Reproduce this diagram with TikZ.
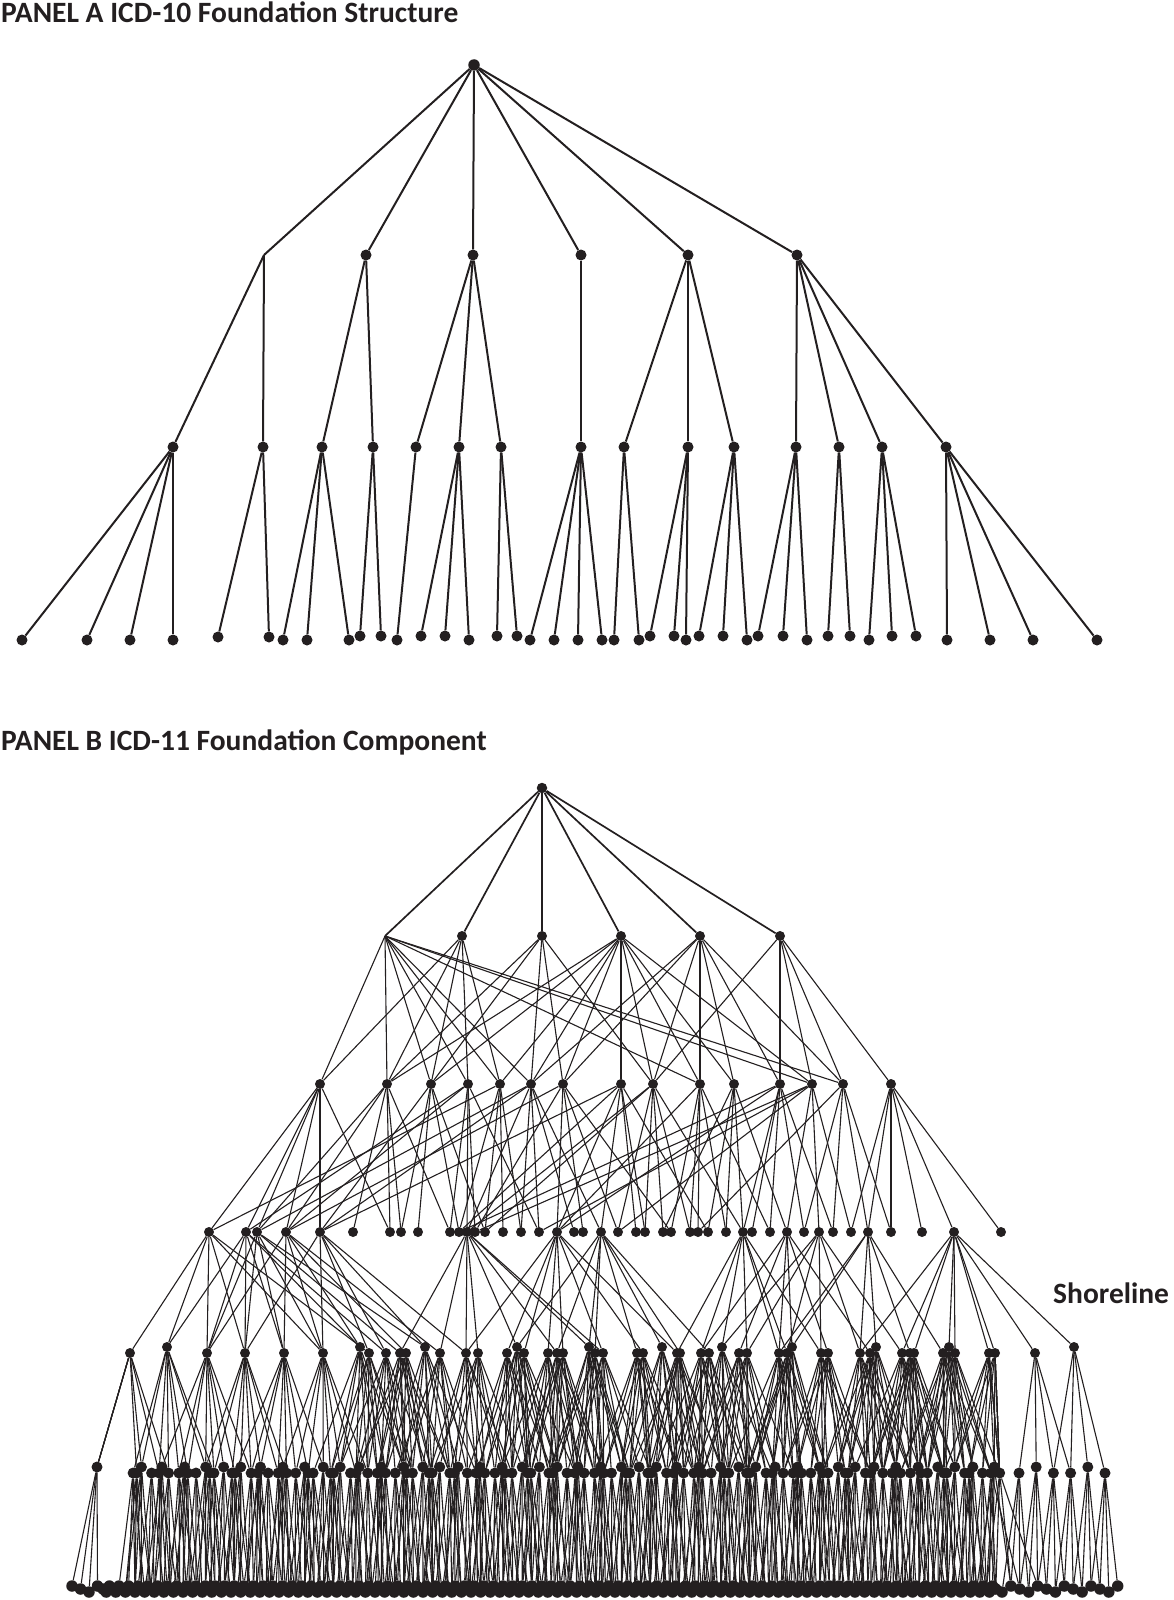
\documentclass[tikz,border=0pt]{standalone}
\usepackage{fontspec}
\setmainfont{Carlito}
\usepackage{tikz}
\definecolor{ink}{HTML}{231F20}

\begin{document}
\begin{tikzpicture}[x=1pt, y=-1pt,
    dot/.style={circle, fill=ink, inner sep=0pt, minimum size=10pt},
    leaf/.style={dot, minimum size=11pt},
    treeedge/.style={draw=ink, line width=2pt},
    topedge/.style={draw=ink, line width=1.7pt},
    webedge/.style={draw=ink, line width=1.1pt},
    fineedge/.style={draw=ink, line width=1.1pt},
    paneltitle/.style={anchor=base west, inner sep=0pt, text=ink,
      font=\fontsize{29.5}{34}\selectfont\bfseries}]
    \useasboundingbox (0,0) rectangle (1174,1600);

    % ---------------- Panel A: one parent per node ----------------
    \node[paneltitle] (titleA) at (1,23) {PANEL A ICD-10 Foundation Structure};
    \node[dot, minimum size=11.5pt] (ar) at (474,65) {};

    % level 1 (the first branch point carries no dot)
    \coordinate (a1) at (264,255);
    \foreach \n/\x in {2/366,3/473,4/581,5/688,6/797}
        \node[dot, minimum size=11pt] (a\n) at (\x,255) {};
    \foreach \n in {1,...,6}
        \draw[treeedge] (ar) -- (a\n);

    % level 2: name/x/parent
    \foreach \n/\x/\p in {1/173/1,2/263/1,3/322/2,4/373/2,5/416/3,6/459/3,7/501/3,
                          8/581/4,9/624/5,10/688/5,11/734/5,12/796/6,13/839/6,14/882/6,15/946/6}{
        \node[dot, minimum size=11pt] (b\n) at (\x,447) {};
        \draw[treeedge] (a\p) -- (b\n);
    }

    % leaves: name/x/y/parent
    \foreach \n/\x/\y/\p in {1/22/640/1,2/87/640/1,3/130/640/1,4/173/640/1,
            5/218/637/2,6/269/637/2,7/283/640/3,8/307/640/3,9/349/640/3,
            10/360/636/4,11/381/636/4,12/397/640/5,
            13/421/636/6,14/445/636/6,15/469/640/6,16/497/636/7,17/517/636/7,
            18/530/640/8,19/554/640/8,20/578/640/8,21/602/640/8,22/614/640/9,23/639/640/9,
            24/650/636/10,25/674/636/10,26/686/640/10,27/699/636/11,28/723/636/11,29/747/640/11,
            30/758/636/12,31/783/636/12,32/807/640/12,33/828/636/13,34/850/636/13,
            35/869/640/14,36/892/636/14,37/916/636/14,
            38/947/640/15,39/990/640/15,40/1033/640/15,41/1097/640/15}{
        \node[dot, minimum size=11pt] (c\n) at (\x,\y) {};
        \draw[treeedge] (b\p) -- (c\n);
    }

    % ---------------- Panel B: many parents per node ----------------
    \node[paneltitle] (titleB) at (1,750) {PANEL B ICD-11 Foundation Component};
    \node[paneltitle] (shore) at (1053,1303) {Shoreline};

    % level 6: the bottom row
    \foreach \m in {0,...,297}{
        \pgfmathsetmacro\xx{ifthenelse(\m<4, 72+8.5*\m, ifthenelse(\m<284, 103+3.2*(\m-4), 1002+8.9*(\m-284)))}
        \pgfmathsetmacro\yy{1586+3*mod(\m,3)}
        \node[leaf, minimum size=11.5pt] (q6-\m) at (\xx,\yy) {};
    }

    % level 5, each fanning down to a few of level 6
    \foreach \k in {0,...,139}{
        \pgfmathsetmacro\xx{ifthenelse(\k==0, 97, ifthenelse(\k<134, 124+6.6*\k+2.5*sin(97*\k), 1019+17.2*(\k-134)))}
        \pgfmathsetmacro\yy{1467+6*(mod(\k,3)>0)}
        \node[leaf] (q5-\k) at (\xx,\yy) {};
        \pgfmathtruncatemacro\mb{ifthenelse(\xx<100, round((\xx-72)/8.5), ifthenelse(\xx<1000, 4+round((\xx-103)/3.2), 284+round((\xx-1002)/8.9)))}
        \pgfmathtruncatemacro\pick{mod(\k,3)}
        \ifnum\k=0 \def\offs{-3,-2,-1,0}\else
            \ifnum\k>133 \def\offs{-2,-1,0,1}\else
                \ifcase\pick \def\offs{-5,-2,0,3}\or \def\offs{-4,-1,1,4}\else \def\offs{-3,0,2,5}\fi
            \fi
        \fi
        \foreach \o in \offs {
            \pgfmathtruncatemacro\mc{max(0,min(297,\mb+(\o)))}
            \draw[fineedge] (q5-\k) -- (q6-\mc);
        }
    }

    % level 4, each fanning down to level 5
    \foreach \n/\x in {1/130,2/167,3/207,4/245,5/284,6/323,7/360,8/369,9/386,10/400,
            11/406,12/425,13/440,14/466,15/478,16/507,17/517,18/524,19/548,20/557,
            21/563,22/589,23/595,24/603,25/637,26/643,27/662,28/677,29/680,30/701,
            31/709,32/722,33/739,34/747,35/779,36/787,37/792,38/821,39/828,40/860,
            41/870,42/876,43/902,44/910,45/914,46/943,47/949,48/955,49/989,50/995,
            51/1035,52/1074}{
        \pgfmathsetmacro\yy{1353-6*(mod(\n,5)==2)}
        \node[dot] (q4-\n) at (\x,\yy) {};
        \pgfmathtruncatemacro\kb{ifthenelse(\x<1010, round((\x-124)/6.6), 134+round((\x-1019)/17.2))}
        \pgfmathtruncatemacro\kmax{ifthenelse(\x<1010, 133, 139)}
        \ifnum\x>1010 \def\offs{-1,0,1,2}\else
            \ifodd\n\relax \def\offs{-7,-5,-3,-1,1,2,4,6}\else \def\offs{-6,-4,-2,0,1,3,5,7}\fi
        \fi
        \foreach \o in \offs {
            \pgfmathtruncatemacro\kc{max(0,min(\kmax,\kb+(\o)))}
            \draw[fineedge] (q4-\n) -- (q5-\kc);
        }
    }

    % level 3
    \foreach \n/\x in {1/209,2/246,3/257,4/286,5/320,6/353,7/390,8/401,9/418,10/450,
            11/459,12/467,13/475,14/485,15/503,16/521,17/539,18/557,19/574,20/583,
            21/601,22/618,23/636,24/645,25/663,26/671,27/690,28/698,29/708,30/726,
            31/743,32/752,33/770,34/787,35/804,36/819,37/833,38/851,39/868,40/891,
            41/922,42/954,43/1001}
        \node[dot] (q3-\n) at (\x,1232) {};
    \foreach \p/\cs in {1/{1,2,3,4,6,8}, 2/{2,3,4,5,7,9}, 3/{3,4,5,6,10,12},
            4/{3,5,6,7,11,13}, 5/{4,6,8,9,12,14}, 12/{10,13,14,15,17,20,22,24},
            18/{14,16,18,19,21,24,26,28}, 21/{17,20,22,23,25,27,29,31},
            31/{28,30,32,34,35,36,38}, 34/{30,33,35,37,39,41}, 36/{32,34,36,38,40,43},
            39/{35,37,40,42,44,46}, 42/{40,43,45,47,48,49,50,51,52}}
        \foreach \c in \cs
            \draw[fineedge] (q3-\p) -- (q4-\c);

    % level 2 with its children on level 3
    \foreach \n/\x/\cs in {1/320/{1,2,3,4,5,7}, 2/387/{3,4,6,7,8,10}, 3/431/{5,8,9,11,14},
            4/468/{2,4,10,12,13,17}, 5/500/{1,11,14,15,16}, 6/531/{3,5,12,16,17,19,21},
            7/563/{4,13,18,20,22,26}, 8/621/{5,11,18,21,23,24,29},
            9/653/{12,14,22,24,25,27,31}, 10/700/{18,26,27,28,30,33},
            11/734/{25,29,30,31,34}, 12/780/{11,18,31,32,33,35,37},
            13/812/{13,17,22,34,36,38}, 14/843/{28,35,37,39,40},
            15/891/{38,39,40,41,42,43}}{
        \node[dot] (q2-\n) at (\x,1084) {};
        \foreach \c in \cs
            \draw[webedge] (q2-\n) -- (q3-\c);
    }

    % level 1 (first one without a dot)
    \coordinate (q1-1) at (385,936);
    \foreach \c in {1,2,3,4,5,6,10,13,14}
        \draw[webedge] (q1-1) -- (q2-\c);
    \foreach \n/\x/\cs in {2/462/{1,2,3,4,5}, 3/542/{2,3,6,7,9},
            4/621/{2,3,5,6,7,8,9,10,11,13}, 5/700/{6,7,9,10,11,12,14},
            6/780/{9,12,13,14,15}}{
        \node[dot] (q1-\n) at (\x,936) {};
        \foreach \c in \cs
            \draw[webedge] (q1-\n) -- (q2-\c);
    }

    % root
    \node[dot, minimum size=10.5pt] (qr) at (542,788) {};
    \foreach \n in {1,...,6}
        \draw[topedge] (qr) -- (q1-\n);
\end{tikzpicture}
\end{document}
